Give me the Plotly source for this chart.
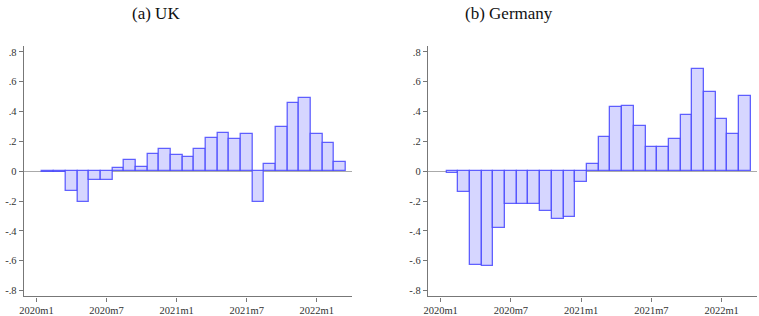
import plotly.graph_objects as go
from plotly.subplots import make_subplots

months = list(range(1, 27))  # 2020m2 .. 2022m3 (index from 2020m1 = 0)
uk_values = [-0.003, -0.005, -0.134, -0.208, -0.058, -0.060, 0.022, 0.072, 0.029, 0.116,
             0.150, 0.112, 0.098, 0.152, 0.223, 0.255, 0.217, 0.250, -0.208, 0.051,
             0.297, 0.456, 0.489, 0.250, 0.192, 0.063]
de_values = [-0.011, -0.141, -0.630, -0.637, -0.384, -0.219, -0.223, -0.219, -0.266, -0.320,
             -0.304, -0.074, 0.049, 0.232, 0.431, 0.440, 0.304, 0.161, 0.165, 0.219,
             0.375, 0.686, 0.530, 0.353, 0.250, 0.505]
x_tick_vals = [0, 6, 12, 18, 24]
x_tick_text = ["2020m1", "2020m7", "2021m1", "2021m7", "2022m1"]
y_tick_vals = [-0.8, -0.6, -0.4, -0.2, 0, 0.2, 0.4, 0.6, 0.8]
y_tick_text = ["-.8", "-.6", "-.4", "-.2", "0", ".2", ".4", ".6", ".8"]
titles = ["(a) UK", "(b) Germany"]

fig = make_subplots(rows=1, cols=2)
fill = "rgb(214,214,255)"
edge = "rgba(70,70,255,0.85)"
for i, vals in enumerate([uk_values, de_values]):
    fig.add_trace(go.Bar(x=months, y=vals, width=1.0, marker=dict(color=fill, line=dict(color=edge, width=1.3)),
                         showlegend=False, hoverinfo="skip"), row=1, col=i + 1)

tickfont = dict(family="Liberation Serif, Times New Roman, serif", size=10.5, color="#333")
axis_common = dict(showgrid=False, showline=True, linecolor="#777", linewidth=1.3, ticks="outside",
                   ticklen=4, tickcolor="#777", tickfont=tickfont)
fig.update_xaxes(range=[-1.08, 27.0], tickvals=x_tick_vals, ticktext=x_tick_text, zeroline=False, **axis_common)
fig.update_yaxes(range=[-0.84, 0.84], tickvals=y_tick_vals, ticktext=y_tick_text, zeroline=True,
                 zerolinecolor="#aaa", zerolinewidth=1.3, **axis_common)
fig.update_layout(
    width=759, height=316, margin=dict(l=0, r=0, t=0, b=0),
    plot_bgcolor="white", paper_bgcolor="white", bargap=0,
    xaxis=dict(domain=[0.025, 0.460]), xaxis2=dict(domain=[0.561, 0.997]),
    yaxis=dict(domain=[0.059, 0.854]), yaxis2=dict(domain=[0.059, 0.854]),
    annotations=[
        dict(text=titles[0], x=152 / 759, y=1 - 14 / 316, xref="paper", yref="paper", showarrow=False,
             xanchor="center", yanchor="middle", font=dict(family="Liberation Serif, serif", size=17, color="#111")),
        dict(text=titles[1], x=507 / 759, y=1 - 14 / 316, xref="paper", yref="paper", showarrow=False,
             xanchor="center", yanchor="middle", font=dict(family="Liberation Serif, serif", size=17, color="#111")),
    ],
)
fig.write_html("out.html", config={"displayModeBar": False},
               post_script="document.body.style.margin='0';document.body.style.padding='0';document.body.style.overflow='hidden';")
